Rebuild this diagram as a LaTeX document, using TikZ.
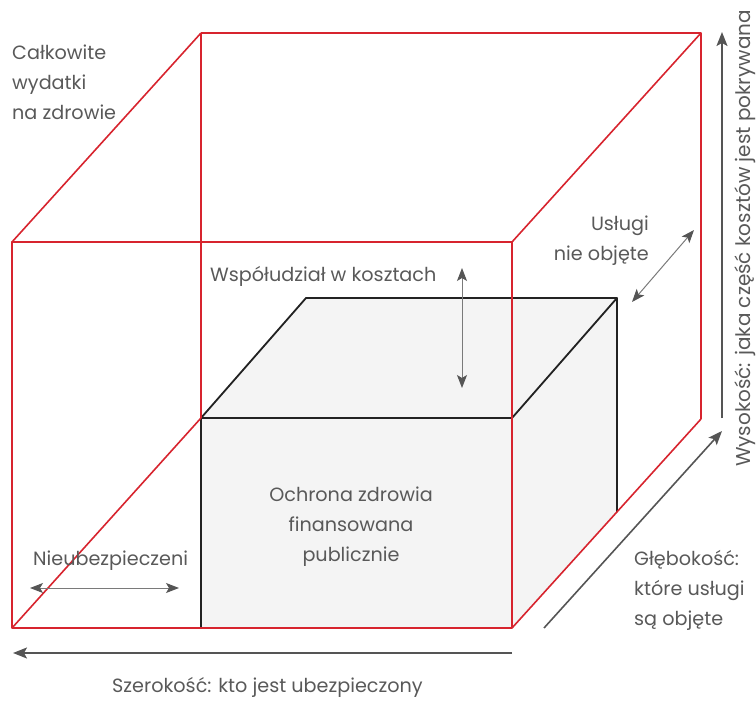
\documentclass[tikz,border=0pt]{standalone}
\usepackage{fontspec}
\setmainfont{Poppins}
\usetikzlibrary{arrows.meta}
\definecolor{boxred}{HTML}{D7242E}
\definecolor{txtgray}{HTML}{595959}
\definecolor{arrgray}{HTML}{555555}
\definecolor{dimgray}{HTML}{7A7A7A}
\definecolor{boxfill}{HTML}{F4F4F4}
\definecolor{edgeblack}{HTML}{222222}
\begin{document}
\begin{tikzpicture}[x=1pt,y=-1pt,
  redline/.style={draw=boxred, line width=1.6pt, line join=round},
  edge/.style={draw=edgeblack, line width=1.8pt, line join=round},
  axis/.style={draw=arrgray, line width=1.6pt, -{Stealth[length=14pt,width=11pt,inset=3pt,fill=arrgray]}},
  dim/.style={draw=dimgray, line width=1pt, {Stealth[length=13pt,width=10pt,inset=3pt,fill=arrgray,color=arrgray]}-{Stealth[length=13pt,width=10pt,inset=3pt,fill=arrgray,color=arrgray]}},
  lbl/.style={text=txtgray, font=\fontsize{19.2}{30}\selectfont, inner sep=0pt}]
\useasboundingbox (0,0) rectangle (756,701);
% red cube corners
\coordinate (A) at (12,242);
\coordinate (B) at (512,242);
\coordinate (C) at (512,628);
\coordinate (D) at (12,628);
\coordinate (E) at (201,33);
\coordinate (F) at (701,33);
\coordinate (G) at (701,419);
\coordinate (H) at (201,418);
% grey box corners
\coordinate (P) at (512,418);
\coordinate (Q) at (306,298);
\coordinate (R) at (617,298);
\coordinate (S) at (617,512);
\coordinate (D2) at (201,628);
% grey box
\fill[boxfill] (H) -- (Q) -- (R) -- (S) -- (C) -- (D2) -- cycle;
\draw[edge] (D2) -- (H) -- (P);
\draw[edge] (H) -- (Q) -- (R) -- (P);
\draw[edge] (R) -- (S);
% red cube
\draw[redline] (A) rectangle (C);
\draw[redline] (E) -- (F) -- (G);
\draw[redline] (E) -- (H);
\draw[redline] (A) -- (E);
\draw[redline] (B) -- (F);
\draw[redline] (D) -- (H);
\draw[redline] (C) -- (G);
% arrows
\coordinate (cs1) at (462,268);
\coordinate (cs2) at (462,388);
\coordinate (un1) at (632,302);
\coordinate (un2) at (694,230);
\coordinate (ni1) at (30,588);
\coordinate (ni2) at (179,588);
\coordinate (w1) at (512,653);
\coordinate (w2) at (13,653);
\coordinate (d1) at (544,628);
\coordinate (d2) at (722,431);
\coordinate (h1) at (722,418);
\coordinate (h2) at (722,32);
\draw[dim] (cs1) -- (cs2);
\draw[dim] (un1) -- (un2);
\draw[dim] (ni1) -- (ni2);
\draw[axis] (w1) -- (w2);
\draw[axis] (d1) -- (d2);
\draw[axis] (h1) -- (h2);
% labels (base anchor = baseline of the last line)
\node[lbl, anchor=base west, align=left] (total) at (12,120) {Całkowite\\wydatki\\na zdrowie};
\node[lbl, anchor=base west] (cost) at (210,281) {Współudział w kosztach};
\node[lbl, anchor=base east, align=right] (notcov) at (649,260) {Usługi\\nie objęte};
\node[lbl, anchor=base, align=center] (public) at (351,561) {Ochrona zdrowia\\finansowana\\publicznie};
\node[lbl, anchor=base west] (unins) at (33,565) {Nieubezpieczeni};
\node[lbl, anchor=base west, align=left] (depth) at (634,625) {Głębokość:\\które usługi\\są objęte};
\node[lbl, anchor=base west] (width) at (112,692) {Szerokość: kto jest ubezpieczony};
\node[lbl, font=\fontsize{20}{30}\selectfont, anchor=base west, rotate=90] (height) at (750,467) {Wysokość: jaka część kosztów jest pokrywana};
\end{tikzpicture}
\end{document}
